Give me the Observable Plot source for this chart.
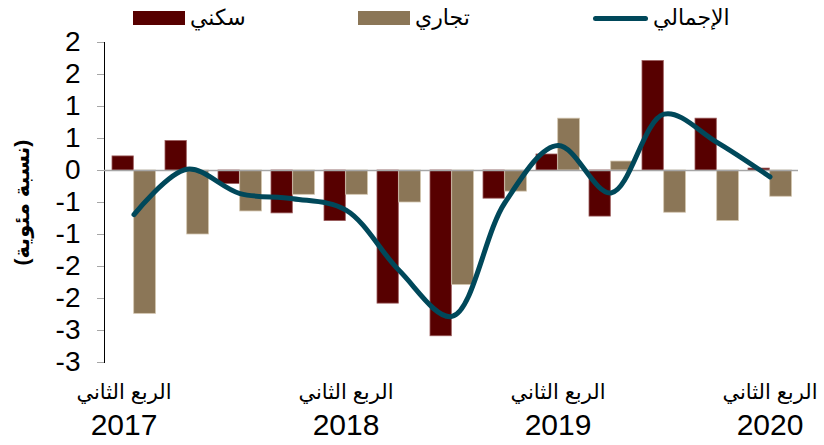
<!DOCTYPE html>
<html><head><meta charset="utf-8">
<script src="https://cdn.jsdelivr.net/npm/d3@7"></script>
<script src="https://cdn.jsdelivr.net/npm/@observablehq/plot@0.6"></script>
<style>
body{margin:0;background:#fff;}
#wrap{position:relative;width:824px;height:445px;font-family:"Liberation Sans","DejaVu Sans",Arial,sans-serif;}
.legend{position:absolute;top:0;left:0;width:824px;height:36px;font-size:22px;color:#000;}
.item{position:absolute;top:5px;display:flex;align-items:center;gap:5px;height:26px;}
.sw{width:52px;height:14px;}
.ln{width:55px;height:5px;border-radius:3px;}
#wrap svg g[aria-label="y-axis tick"]{stroke:#a6a6a6;}
#wrap svg g[aria-label="y-axis tick label"]{font-size:28px;}
#wrap svg g[aria-label="y-axis label"] text{font-weight:bold;font-size:21px;}
</style></head><body><div id="wrap"></div>
<script>
const quarters = ["Q2-2017","Q3-2017","Q4-2017","Q1-2018","Q2-2018","Q3-2018","Q4-2018","Q1-2019","Q2-2019","Q3-2019","Q4-2019","Q1-2020","Q2-2020"];
const residential = [0.22, 0.46, -0.21, -0.67, -0.79, -2.08, -2.59, -0.44, 0.25, -0.72, 1.71, 0.81, 0.03];
const commercial = [-2.24, -1.0, -0.64, -0.38, -0.38, -0.5, -1.79, -0.33, 0.81, 0.14, -0.66, -0.79, -0.41];
const total = [-0.69, 0.02, -0.36, -0.44, -0.62, -1.56, -2.28, -0.5, 0.39, -0.35, 0.88, 0.44, -0.1];
const yTicks = [-3, -2.5, -2, -1.5, -1, -0.5, 0, 0.5, 1, 1.5, 2];
const yTickLabels = ["-3", "-3", "-2", "-2", "-1", "-1", "0", "1", "1", "2", "2"];
const xTickQuarters = ["Q2-2017", "Q2-2018", "Q2-2019", "Q2-2020"];
const xTickLabels = ["الربع الثاني\n2017", "الربع الثاني\n2018", "الربع الثاني\n2019", "الربع الثاني\n2020"];
const seriesNames = ["سكني", "تجاري", "الإجمالي"];
const yLabel = "(نسبة مئوية)";

const rows = quarters.map((q, i) => ({q, res: residential[i], com: commercial[i], tot: total[i]}));

const W = 824, H = 445, mL = 104, mR = 26;
const half = (W - mL - mR) / quarters.length / 2;

const chart = Plot.plot({
  width: W, height: H,
  marginLeft: mL, marginRight: mR, marginTop: 42, marginBottom: 83,
  style: {fontFamily: '"Liberation Sans","DejaVu Sans",Arial,sans-serif', fontSize: "28px", color: "#000", background: "#fff", overflow: "visible"},
  x: {type: "band", domain: quarters, padding: 0},
  y: {domain: [-3, 2], ticks: yTicks, tickFormat: d => yTickLabels[yTicks.indexOf(d)], tickSize: 7, tickPadding: 17, line: true, label: yLabel, labelArrow: "none", labelAnchor: "center", labelOffset: 90},
  marks: [
    Plot.barY(rows, {x: "q", y: "res", fill: "#570000", stroke: "#9a5a5a", strokeWidth: 0.8, insetLeft: 5, insetRight: half}),
    Plot.barY(rows, {x: "q", y: "com", fill: "#8b7657", stroke: "#d3c6b0", strokeWidth: 0.8, insetLeft: half, insetRight: 4.5}),
    Plot.ruleY([0], {stroke: "#a6a6a6", strokeWidth: 1.5}),
    Plot.line(rows, {x: "q", y: "tot", stroke: "#00485a", strokeWidth: 5, curve: "catmull-rom", strokeLinecap: "round", strokeLinejoin: "round"}),
    Plot.axisX({ticks: xTickQuarters, tickFormat: d => xTickLabels[xTickQuarters.indexOf(d)], tickSize: 0, tickPadding: 19, lineHeight: 1.2, label: null, fontSize: 30})
  ]
});

const wrap = document.getElementById("wrap");
wrap.appendChild(chart);

// remove any label arrow and tweak the Arabic line of x tick labels
const yl = chart.querySelector('g[aria-label="y-axis label"] text');
if (yl) yl.textContent = yLabel;
chart.querySelectorAll('g[aria-label="x-axis tick label"] text').forEach((t, i) => {
  const ts = t.querySelectorAll("tspan");
  if (ts.length) ts[0].setAttribute("font-size", "21px");
  if (i === 0) {
    const tr = t.getAttribute("transform");
    t.setAttribute("transform", (tr ? tr + " " : "") + "translate(-10,0)");
  }
});

const legend = document.createElement("div");
legend.className = "legend";
const items = [
  {left: 133, cls: "sw", color: "#570000", name: seriesNames[0]},
  {left: 358, cls: "sw", color: "#8b7657", name: seriesNames[1]},
  {left: 593, cls: "ln", color: "#00485a", name: seriesNames[2]}
];
for (const it of items) {
  const d = document.createElement("div");
  d.className = "item";
  d.style.left = it.left + "px";
  const s = document.createElement("span");
  s.className = it.cls;
  s.style.background = it.color;
  const t = document.createElement("span");
  t.textContent = it.name;
  d.appendChild(s); d.appendChild(t);
  legend.appendChild(d);
}
wrap.appendChild(legend);
</script></body></html>
